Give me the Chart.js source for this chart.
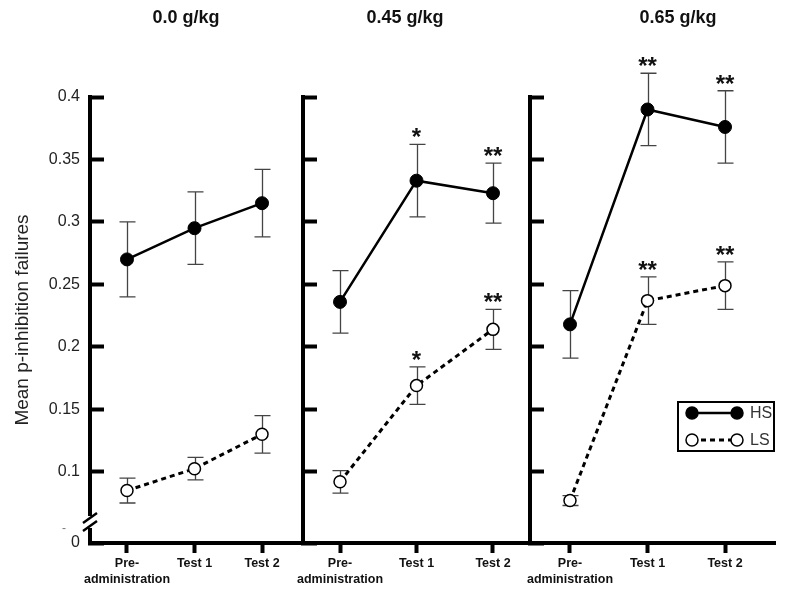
<!DOCTYPE html>
<html>
<head>
<meta charset="utf-8">
<script src="https://cdn.jsdelivr.net/npm/chart.js@4.4.0/dist/chart.umd.min.js"></script>
<style>
  body { margin: 0; background: #fff; }
  .wrap { position: relative; width: 800px; height: 592px; }
  .wrap canvas { position: absolute; left: 0; top: 0; }
</style>
</head>
<body>
<div class="wrap">
  <canvas id="p0" width="800" height="592"></canvas>
  <canvas id="p1" width="800" height="592"></canvas>
  <canvas id="p2" width="800" height="592"></canvas>
</div>
<script>
const doses = ['0.0 g/kg', '0.45 g/kg', '0.65 g/kg'];
const phases = [['Pre-', 'administration'], 'Test 1', 'Test 2'];
const groups = ['HS', 'LS'];

// one row per dose panel
const hsMeans = [[0.270, 0.295, 0.315], [0.236, 0.333, 0.323], [0.218, 0.390, 0.376]];
const hsErrors = [[0.030, 0.029, 0.027], [0.025, 0.029, 0.024], [0.027, 0.029, 0.029]];
const lsMeans = [[0.085, 0.1025, 0.130], [0.092, 0.169, 0.214], [0.077, 0.237, 0.249]];
const lsErrors = [[0.010, 0.009, 0.015], [0.009, 0.015, 0.016], [0.004, 0.019, 0.019]];
const hsStars = [['', '', ''], ['', '*', '**'], ['', '**', '**']];
const lsStars = [['', '', ''], ['', '*', '**'], ['', '**', '**']];

const yTicks = [0.1, 0.15, 0.2, 0.25, 0.3, 0.35, 0.4];
const yMin = 0.043, yMax = 0.4;

const FONT = "'Liberation Sans', Arial, sans-serif";

// where each panel sits on the page
const panels = [
  { left: 90, right: 303, xMin: -0.548, xMax: 2.607, titleX: 186 },
  { left: 303, right: 530, xMin: -0.484, xMax: 2.484, titleX: 405 },
  { left: 530, right: 775, xMin: -0.516, xMax: 2.645, titleX: 678 },
];

const extras = {
  id: 'extras',
  beforeDatasetsDraw(chart) {
    // error bars under the markers
    const { ctx, scales: { x, y } } = chart;
    ctx.save();
    ctx.strokeStyle = '#444';
    ctx.lineWidth = 1.3;
    chart.data.datasets.forEach(ds => {
      ds.data.forEach((pt, i) => {
        const px = Math.round(x.getPixelForValue(pt.x)) + 0.5;
        const t = y.getPixelForValue(pt.y + ds.errors[i]);
        const b = y.getPixelForValue(pt.y - ds.errors[i]);
        ctx.beginPath();
        ctx.moveTo(px, t); ctx.lineTo(px, b);
        ctx.moveTo(px - 8, t); ctx.lineTo(px + 8, t);
        ctx.moveTo(px - 8, b); ctx.lineTo(px + 8, b);
        ctx.stroke();
      });
    });
    ctx.restore();
  },
  afterDraw(chart, args, opts) {
    const { ctx, scales: { x, y } } = chart;
    const k = opts.panel;
    ctx.save();
    // significance marks
    ctx.fillStyle = '#111';
    ctx.textAlign = 'center';
    ctx.textBaseline = 'alphabetic';
    ctx.font = 'bold 24px ' + FONT;
    chart.data.datasets.forEach(ds => {
      ds.data.forEach((pt, i) => {
        if (!ds.stars[i]) return;
        ctx.fillText(ds.stars[i], x.getPixelForValue(pt.x), y.getPixelForValue(pt.y + ds.errors[i]) + 1);
      });
    });
    // dose title
    ctx.font = 'bold 18px ' + FONT;
    ctx.textBaseline = 'middle';
    ctx.fillText(doses[k], panels[k].titleX, 18);

    if (k === 0) {
      // axis break
      const ax = chart.chartArea.left;
      ctx.fillStyle = '#fff';
      ctx.fillRect(ax - 3, 516, 7, 12);
      ctx.strokeStyle = '#000';
      ctx.lineWidth = 2.5;
      ctx.beginPath();
      ctx.moveTo(ax - 7, 523); ctx.lineTo(ax + 7, 513);
      ctx.moveTo(ax - 7, 531); ctx.lineTo(ax + 7, 521);
      ctx.stroke();
      // stray dash left of the break
      ctx.fillStyle = '#777';
      ctx.font = '12px ' + FONT;
      ctx.textAlign = 'center';
      ctx.fillText('-', 64, 529);
    }

    if (k === 2) {
      // legend box
      const bx = 678, by = 402, bw = 96, bh = 49;
      ctx.strokeStyle = '#000';
      ctx.lineWidth = 2;
      ctx.strokeRect(bx, by, bw, bh);
      chart.data.datasets.forEach((ds, j) => {
        const ly = by + 11 + j * 27;
        ctx.strokeStyle = '#000';
        ctx.lineWidth = ds.borderWidth;
        ctx.setLineDash(ds.borderDash || []);
        ctx.beginPath();
        ctx.moveTo(bx + 14, ly); ctx.lineTo(bx + 59, ly);
        ctx.stroke();
        ctx.setLineDash([]);
        [bx + 14, bx + 59].forEach(cx => {
          ctx.beginPath();
          ctx.arc(cx, ly, 6, 0, Math.PI * 2);
          ctx.fillStyle = ds.pointBackgroundColor;
          ctx.fill();
          ctx.lineWidth = 1.5;
          ctx.stroke();
        });
        ctx.fillStyle = '#333';
        ctx.font = '16px ' + FONT;
        ctx.textAlign = 'left';
        ctx.textBaseline = 'middle';
        ctx.fillText(ds.label, bx + 72, ly + 1);
      });
    }
    ctx.restore();
  }
};

panels.forEach((p, k) => {
  const yWidth = k === 0 ? 90 : 0;
  new Chart(document.getElementById('p' + k), {
    type: 'line',
    data: {
      datasets: [
        {
          label: groups[0],
          data: hsMeans[k].map((v, i) => ({ x: i, y: v })),
          errors: hsErrors[k],
          stars: hsStars[k],
          borderColor: '#000',
          borderWidth: 2.5,
          pointRadius: 6.5,
          pointBackgroundColor: '#000',
          pointBorderColor: '#000',
          pointBorderWidth: 1,
          tension: 0,
          clip: false
        },
        {
          label: groups[1],
          data: lsMeans[k].map((v, i) => ({ x: i, y: v })),
          errors: lsErrors[k],
          stars: lsStars[k],
          borderColor: '#000',
          borderWidth: 3,
          borderDash: [5, 4],
          pointRadius: 6,
          pointBackgroundColor: '#fff',
          pointBorderColor: '#000',
          pointBorderWidth: 1.5,
          tension: 0,
          clip: false
        }
      ]
    },
    options: {
      responsive: false,
      animation: false,
      layout: { padding: { left: p.left - yWidth, right: 800 - p.right, top: 97, bottom: 0 } },
      plugins: {
        legend: { display: false },
        tooltip: { enabled: false },
        extras: { panel: k }
      },
      scales: {
        x: {
          type: 'linear',
          min: p.xMin,
          max: p.xMax,
          afterBuildTicks: s => { s.ticks = phases.map((_, i) => ({ value: i })); },
          afterFit: s => { s.height = 49; },
          border: { color: '#000', width: 4 },
          grid: { drawOnChartArea: false, color: '#000', tickLength: 10, tickWidth: 4 },
          ticks: {
            callback: v => phases[v],
            autoSkip: false,
            maxRotation: 0,
            padding: 3,
            color: '#111',
            font: { family: FONT, size: 12.5, weight: 'bold', lineHeight: 1.25 }
          }
        },
        y: {
          min: yMin,
          max: yMax,
          afterBuildTicks: s => { s.ticks = [yMin, ...yTicks].map(v => ({ value: v })); },
          afterFit: s => { s.width = yWidth; },
          border: { color: '#000', width: 4 },
          grid: { drawOnChartArea: false, color: '#000', tickLength: -14, tickWidth: 4 },
          ticks: {
            display: k === 0,
            padding: 24,
            autoSkip: false,
            callback: v => (v === yMin ? '0' : String(v)),
            color: '#222',
            font: { family: FONT, size: 16 }
          },
          title: {
            display: k === 0,
            text: 'Mean p-inhibition failures',
            color: '#222',
            padding: { top: 11, bottom: 0 },
            font: { family: FONT, size: 19 }
          }
        }
      }
    },
    plugins: [extras]
  });
});
</script>
</body>
</html>
